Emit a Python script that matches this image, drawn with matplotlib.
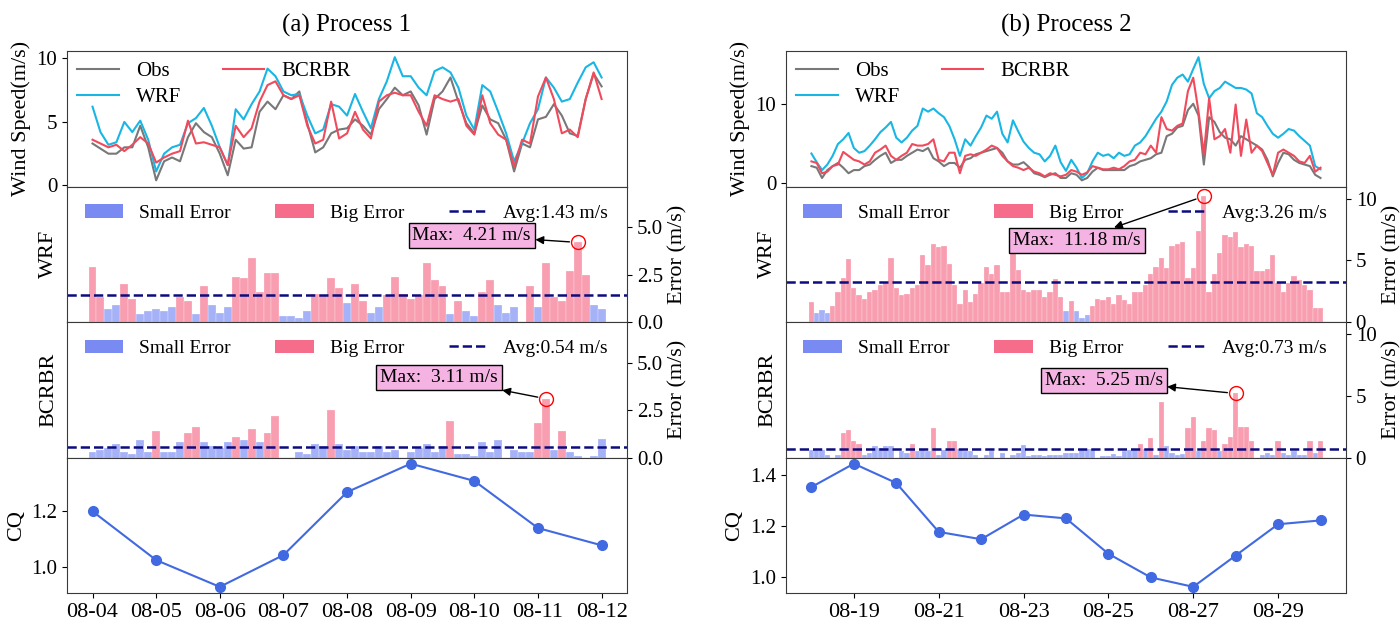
import numpy as np
import pandas as pd
import matplotlib
matplotlib.use("Agg")
import matplotlib.pyplot as plt
import matplotlib.dates as mdates
from matplotlib.patches import Patch
from matplotlib.lines import Line2D

plt.rcParams["font.family"] = ["Liberation Serif", "DejaVu Serif"]
plt.rcParams["font.size"] = 15
plt.rcParams["axes.edgecolor"] = "#3a3a3a"

# Process 1: 3-hourly wind speed (m/s), 08-04 00:00 -> 08-12 00:00
p1_obs = [3.3, 2.9, 2.5, 2.5, 3.0, 3.0, 4.7, 3.0, 0.4, 1.9, 2.2, 1.9, 3.8, 4.9, 4.2, 3.8,
          2.5, 0.8, 3.6, 2.9, 3.0, 5.8, 6.6, 6.0, 7.1, 6.8, 7.4, 4.9, 2.6, 3.0, 4.1, 4.4,
          4.5, 5.2, 4.7, 4.0, 6.0, 6.8, 7.7, 7.1, 7.4, 6.3, 4.0, 6.8, 7.4, 8.5, 6.6, 4.9,
          4.1, 6.3, 5.2, 4.9, 3.6, 1.1, 3.3, 3.0, 5.2, 5.4, 6.4, 5.5, 4.1, 3.9, 6.8, 8.8,
          7.8]
p1_wrf = [6.2, 4.2, 3.2, 3.4, 5.0, 4.2, 5.1, 3.6, 1.1, 2.5, 3.0, 3.2, 4.9, 5.3, 6.1, 4.7,
          3.0, 1.6, 6.0, 5.2, 6.4, 7.4, 9.2, 8.6, 7.4, 7.1, 7.2, 5.5, 4.1, 4.4, 6.4, 6.2,
          5.5, 7.2, 5.8, 4.5, 6.8, 8.2, 10.1, 8.6, 8.6, 7.7, 7.1, 9.0, 9.3, 8.9, 7.7, 5.5,
          4.4, 7.9, 7.4, 5.8, 4.1, 1.9, 3.3, 4.9, 6.0, 8.5, 7.7, 6.6, 6.8, 8.1, 9.3, 9.7,
          8.5]
p1_bcrbr = [3.6, 3.3, 3.0, 3.2, 2.7, 3.2, 3.8, 3.3, 1.8, 2.2, 2.5, 2.7, 5.1, 3.3, 3.4, 3.2,
            3.0, 1.6, 4.7, 3.8, 4.5, 6.6, 7.9, 8.2, 7.1, 6.8, 7.1, 4.7, 3.3, 3.6, 6.6, 3.7,
            4.1, 5.8, 4.4, 3.7, 6.6, 7.1, 7.3, 7.1, 7.1, 5.8, 4.7, 7.1, 6.8, 6.6, 6.8, 4.7,
            4.0, 7.1, 4.9, 4.0, 3.6, 1.5, 3.6, 3.3, 7.0, 8.5, 6.8, 4.1, 4.4, 3.8, 6.8, 8.9,
            6.8]
p1_cq = [1.200, 1.025, 0.929, 1.043, 1.269, 1.371, 1.309, 1.140, 1.078]
p1_avg = [1.43, 0.54]
p1_max = ["4.21", "3.11"]

# Process 2: 3-hourly wind speed (m/s), 08-18 00:00 -> 08-30 00:00
p2_obs = [2.1, 1.9, 0.6, 1.6, 2.1, 2.5, 1.9, 1.2, 1.6, 1.6, 2.1, 2.3, 2.9, 3.4, 3.8, 2.5,
          2.9, 2.9, 3.4, 3.8, 4.2, 4.0, 4.4, 3.1, 2.7, 2.1, 2.5, 2.5, 1.9, 2.9, 3.1, 3.6,
          3.8, 4.0, 4.2, 4.4, 3.8, 2.7, 2.3, 2.3, 2.6, 2.0, 1.2, 1.0, 0.7, 1.0, 1.2, 0.6,
          0.6, 1.2, 1.0, 0.3, 0.6, 1.4, 1.9, 1.6, 1.6, 1.6, 1.6, 1.6, 2.1, 2.3, 2.7, 2.9,
          3.1, 3.6, 3.8, 5.9, 6.2, 7.0, 7.2, 9.2, 10.0, 8.5, 2.3, 8.3, 7.7, 6.4, 5.7, 5.5,
          4.7, 5.9, 5.5, 5.1, 4.7, 4.2, 2.9, 0.8, 2.5, 3.8, 3.6, 2.9, 2.5, 2.3, 2.1, 1.0,
          0.6]
p2_wrf = [3.7, 2.6, 1.6, 2.3, 3.4, 4.9, 5.5, 6.3, 4.4, 3.8, 4.0, 4.7, 5.5, 6.4, 7.0, 7.7,
          5.7, 5.1, 5.7, 6.6, 7.2, 9.4, 9.0, 9.4, 8.8, 8.3, 7.2, 5.5, 3.4, 5.5, 4.7, 5.9,
          7.0, 8.5, 8.1, 9.0, 6.2, 5.1, 7.9, 6.5, 5.2, 4.4, 3.8, 3.6, 2.7, 3.4, 4.7, 2.6,
          1.5, 2.9, 1.9, 0.6, 1.2, 2.7, 3.8, 3.4, 3.6, 3.1, 3.8, 3.4, 3.6, 4.7, 5.1, 5.9,
          7.0, 8.1, 9.0, 10.3, 12.4, 13.3, 13.7, 12.8, 14.4, 15.9, 12.5, 10.7, 11.6, 12.0, 12.8, 12.4,
          12.0, 12.0, 11.8, 11.3, 8.8, 8.3, 7.2, 6.2, 5.7, 6.2, 6.8, 6.6, 5.9, 5.3, 4.7, 2.1,
          1.7]
p2_bcrbr = [2.7, 2.5, 1.2, 1.4, 2.1, 2.3, 3.9, 3.4, 2.9, 2.7, 2.3, 2.7, 3.8, 4.2, 4.7, 3.4,
            2.9, 3.4, 3.8, 4.9, 4.7, 4.7, 4.9, 5.5, 2.9, 2.7, 3.8, 3.8, 1.2, 3.4, 3.6, 3.4,
            3.8, 4.2, 4.7, 4.4, 3.4, 2.7, 2.1, 1.9, 1.6, 1.9, 1.4, 1.2, 0.8, 1.2, 1.0, 0.8,
            1.0, 1.6, 1.4, 1.0, 1.3, 2.1, 1.9, 1.7, 1.7, 1.9, 1.7, 2.1, 2.7, 2.9, 3.8, 3.6,
            4.7, 3.8, 8.3, 6.8, 6.6, 7.2, 7.5, 11.6, 13.3, 9.0, 3.6, 10.7, 5.5, 5.9, 6.8, 3.8,
            9.9, 3.4, 8.0, 3.8, 4.7, 4.0, 2.5, 1.0, 3.8, 4.2, 3.8, 3.4, 2.7, 2.5, 3.4, 1.4,
            1.9]
p2_cq = [1.354, 1.446, 1.370, 1.178, 1.149, 1.246, 1.231, 1.092, 0.999, 0.962, 1.085,
         1.208, 1.223]
p2_avg = [3.26, 0.73]
p2_max = ["11.18", "5.25"]

OBS_C = "#787878"
WRF_C = "#19b6e4"
BCR_C = "#f04a5c"
SMALL_C = "#6b7ff2"
BIG_C = "#f55d7e"
AVG_C = "#0c0c80"
CQ_C = "#4169e1"
BOX_C = "#f4b3e3"

PANEL_H = 0.2189
BOTTOM = 0.042


def draw_process(fig, left, start, obs, wrf, bcrbr, cq, avgs, max_labels, title,
                 err_top, err_ticks, ws_ticks, cq_ticks, day_loc, offsets):
    times = pd.date_range(start, periods=len(obs), freq="3h")
    x = mdates.date2num(times.to_pydatetime())
    cq_x = mdates.date2num(pd.date_range(start, periods=len(cq), freq="D").to_pydatetime())
    obs, wrf, bcrbr = np.array(obs), np.array(wrf), np.array(bcrbr)

    ax0 = fig.add_axes([left, BOTTOM + 3 * PANEL_H, 0.4, PANEL_H])
    axes = [ax0] + [fig.add_axes([left, BOTTOM + (3 - k) * PANEL_H, 0.4, PANEL_H], sharex=ax0)
                    for k in range(1, 4)]

    # wind speed
    ax = axes[0]
    l_obs, = ax.plot(x, obs, color=OBS_C, lw=1.5)
    l_wrf, = ax.plot(x, wrf, color=WRF_C, lw=1.5)
    l_bcr, = ax.plot(x, bcrbr, color=BCR_C, lw=1.5)
    ax.legend([l_obs, l_wrf, l_bcr], ["Obs", "WRF", "BCRBR"], loc="upper left", ncol=2,
              frameon=False, fontsize=15, borderaxespad=0.1, handlelength=2.0,
              labelspacing=0.3)
    ax.set_yticks(ws_ticks)
    ax.set_ylabel("Wind Speed(m/s)", fontsize=16)
    ax.set_title(title, fontsize=18, pad=14)

    # error panels
    for ax, name, model, avg, mlabel, off in zip(axes[1:3], ["WRF", "BCRBR"], [wrf, bcrbr],
                                                 avgs, max_labels, offsets):
        err = np.abs(model - obs)
        big = err > 1.0
        ax.bar(x[~big], err[~big], width=0.125, color=SMALL_C, alpha=0.6,
               edgecolor="white", linewidth=0.3)
        ax.bar(x[big], err[big], width=0.125, color=BIG_C, alpha=0.6,
               edgecolor="white", linewidth=0.3)
        ax.axhline(avg, color=AVG_C, ls="--", lw=1.8)
        k = np.argmax(err)
        ax.plot(x[k], err[k], "o", mfc="none", mec="red", ms=10, mew=1)
        ax.annotate(f"Max:  {mlabel} m/s", xy=(x[k], err[k]), xytext=off,
                    textcoords="offset pixels", ha="center", va="center", fontsize=14,
                    bbox=dict(boxstyle="square,pad=0.2", fc=BOX_C, ec="black", lw=1),
                    arrowprops=dict(arrowstyle="<|-", color="black", lw=1,
                                    shrinkA=0, shrinkB=6, mutation_scale=12))
        handles = [Patch(fc=SMALL_C, alpha=0.9), Patch(fc=BIG_C, alpha=0.9),
                   Line2D([], [], color=AVG_C, ls="--", lw=1.8)]
        ax.legend(handles, ["Small Error", "Big Error", f"Avg:{avg:.2f} m/s"],
                  loc="upper left", ncol=3, frameon=False, fontsize=14,
                  columnspacing=2.3, borderaxespad=0.5)
        ax.set_ylim(0, err_top)
        ax.set_yticks(err_ticks)
        ax.yaxis.tick_right()
        ax.yaxis.set_label_position("right")
        ax.set_ylabel("Error (m/s)", fontsize=16)
        ax.text(-0.033, 0.5, name, rotation=90, transform=ax.transAxes,
                ha="center", va="center", fontsize=16)

    # CQ
    ax = axes[3]
    ax.plot(cq_x, cq, "-o", color=CQ_C, lw=1.5, ms=7)
    ax.set_yticks(cq_ticks)
    ax.set_ylabel("CQ", fontsize=16)
    ax.xaxis.set_major_locator(day_loc)
    ax.xaxis.set_major_formatter(mdates.DateFormatter("%m-%d"))
    ax.tick_params(axis="x", labelsize=16)

    span = x[-1] - x[0]
    ax.set_xlim(x[0] - 0.05 * span, x[-1] + 0.05 * span)
    for a in axes[:3]:
        a.tick_params(axis="x", bottom=False, labelbottom=False)
    return axes


fig = plt.figure(figsize=(14, 6.19), dpi=100)

draw_process(fig, 0.0479, "2023-08-04", p1_obs, p1_wrf, p1_bcrbr, p1_cq, p1_avg, p1_max,
             "(a) Process 1", 7.15, [0.0, 2.5, 5.0], [0, 5, 10], [1.0, 1.2],
             mdates.DayLocator(interval=1), [(-106, 7), (-107, 21)])
draw_process(fig, 0.5614, "2023-08-18", p2_obs, p2_wrf, p2_bcrbr, p2_cq, p2_avg, p2_max,
             "(b) Process 2", 11.0, [0, 5, 10], [0, 10], [1.0, 1.2, 1.4],
             mdates.DayLocator(bymonthday=range(19, 30, 2)), [(-127, -44), (-132, 13)])

fig.savefig("out.png", dpi=100)
